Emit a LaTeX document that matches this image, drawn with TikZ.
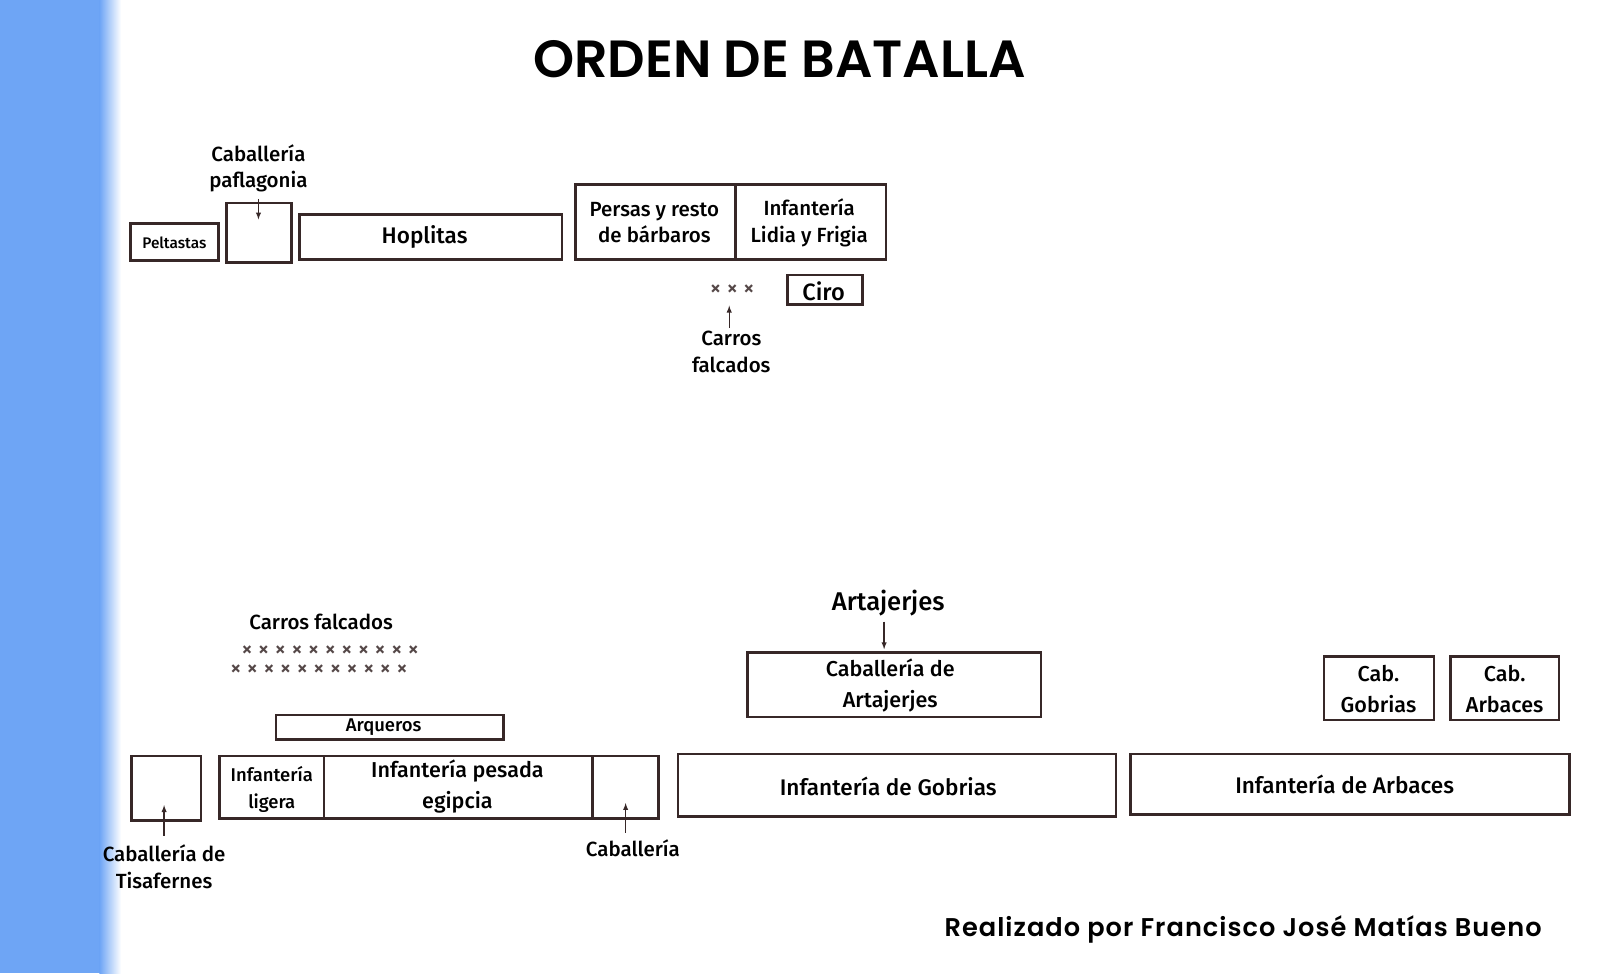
\documentclass[tikz,border=0pt]{standalone}
\usepackage{fontspec}
\setmainfont{Fira Sans}[UprightFont=* Medium]
\newfontfamily\popp{Poppins}[UprightFont=* SemiBold]
\newcommand\xk{\kern5.5pt}
\begin{document}
\begin{tikzpicture}[x=1pt,y=-1pt,
  bx/.style={draw=ink,line width=2.6pt},
  lb/.style={text=black,font=\fontsize{20}{26}\selectfont,align=center,inner sep=0},
  ar/.style={draw=ink,line width=1.3pt,-latex},
  xx/.style={text=ink!85,font=\fontsize{21}{16}\selectfont,inner sep=0}]
\definecolor{ink}{RGB}{55,40,40}
\definecolor{sky}{RGB}{110,165,245}
\useasboundingbox (0,0) rectangle (1560,949);
\fill[white] (0,0) rectangle (1560,949);
\fill[sky] (0,0) rectangle (98,949);
\shade[left color=sky,right color=white] (97,0) rectangle (118,949);
\node[font=\fontsize{51}{55}\selectfont\popp] (title) at (760,58) {ORDEN DE BATALLA};
% upper army
\draw[bx] (127,218) rectangle (213,254); \node[lb,font=\fontsize{15}{18}\selectfont] (pel) at (170,237) {Peltastas};
\draw[bx] (221,198) rectangle (284,256); \coordinate (pafin) at (252,214);
\node[lb] (paf) at (252,164) {Caballería\\paflagonia};
\coordinate (pafa) at (252,194); \draw[ar] (pafa) -- (pafin);
\draw[bx] (292,209) rectangle (548,253); \node[lb,font=\fontsize{22}{26}\selectfont] (hop) at (414,231) {Hoplitas};
\draw[bx] (561,180) rectangle (864,253); \draw[bx] (717,180) -- (717,253);
\node[lb] (per) at (638,217) {Persas y resto\\de bárbaros};
\node[lb] (lid) at (789,217) {Infantería\\Lidia y Frigia};
\node[xx] (x1) at (714,283) {×\xk×\xk×};
\draw[bx,line width=2.4pt] (768,268) rectangle (841,297); \node[lb,font=\fontsize{23}{26}\selectfont] (ciro) at (803,284) {Ciro};
\node[lb] (cf1) at (713,343) {Carros\\falcados};
\coordinate (cf1a) at (711,320); \coordinate (cf1b) at (711,298); \draw[ar] (cf1a) -- (cf1b);
% lower army
\node[lb] (cf2) at (313,606) {Carros falcados};
\node[xx] (xr1) at (322,635) {×\xk×\xk×\xk×\xk×\xk×\xk×\xk×\xk×\xk×\xk×};
\node[xx] (xr2) at (311,653) {×\xk×\xk×\xk×\xk×\xk×\xk×\xk×\xk×\xk×\xk×};
\node[lb,font=\fontsize{25}{28}\selectfont] (art) at (866,588) {Artajerjes};
\coordinate (arta) at (862,606); \coordinate (artb) at (862,633); \draw[ar] (arta) -- (artb);
\draw[bx] (729,636) rectangle (1015,699); \node[lb,font=\fontsize{21}{30}\selectfont] (cart) at (868,668) {Caballería de\\Artajerjes};
\draw[bx] (1291,640) rectangle (1398,702); \node[lb,font=\fontsize{21}{30}\selectfont] (cg) at (1344,672) {Cab.\\Gobrias};
\draw[bx] (1414,640) rectangle (1520,702); \node[lb,font=\fontsize{21}{30}\selectfont] (ca) at (1467,672) {Cab.\\Arbaces};
\draw[bx] (269,697) rectangle (491,721); \node[lb,font=\fontsize{18}{20}\selectfont] (arq) at (374,709) {Arqueros};
\draw[bx] (128,737) rectangle (196,800);
\coordinate (tisa) at (160,815); \coordinate (tisb) at (160,785); \draw[ar] (tisa) -- (tisb);
\node[lb] (tis) at (160,845) {Caballería de\\Tisafernes};
\draw[bx] (214,737) rectangle (642,798); \draw[bx] (316,737) -- (316,798); \draw[bx] (578,737) -- (578,798);
\node[lb,font=\fontsize{18}{26}\selectfont] (il) at (265,770) {Infantería\\ligera};
\node[lb,font=\fontsize{21}{30}\selectfont] (ip) at (446,767) {Infantería pesada\\egipcia};
\coordinate (cba) at (610,812); \coordinate (cbb) at (610,783); \draw[ar] (cba) -- (cbb);
\node[lb] (cb) at (617,827) {Caballería};
\draw[bx] (661,735) rectangle (1088,796); \node[lb,font=\fontsize{22}{26}\selectfont] (ig) at (866,767) {Infantería de Gobrias};
\draw[bx] (1102,735) rectangle (1530,794); \node[lb,font=\fontsize{22}{26}\selectfont] (ia) at (1311,765) {Infantería de Arbaces};
\node[lb,font=\fontsize{25}{28}\selectfont\popp\addfontfeature{LetterSpace=4}] (foot) at (1212,906) {Realizado por Francisco José Matías Bueno};
\end{tikzpicture}
\end{document}
